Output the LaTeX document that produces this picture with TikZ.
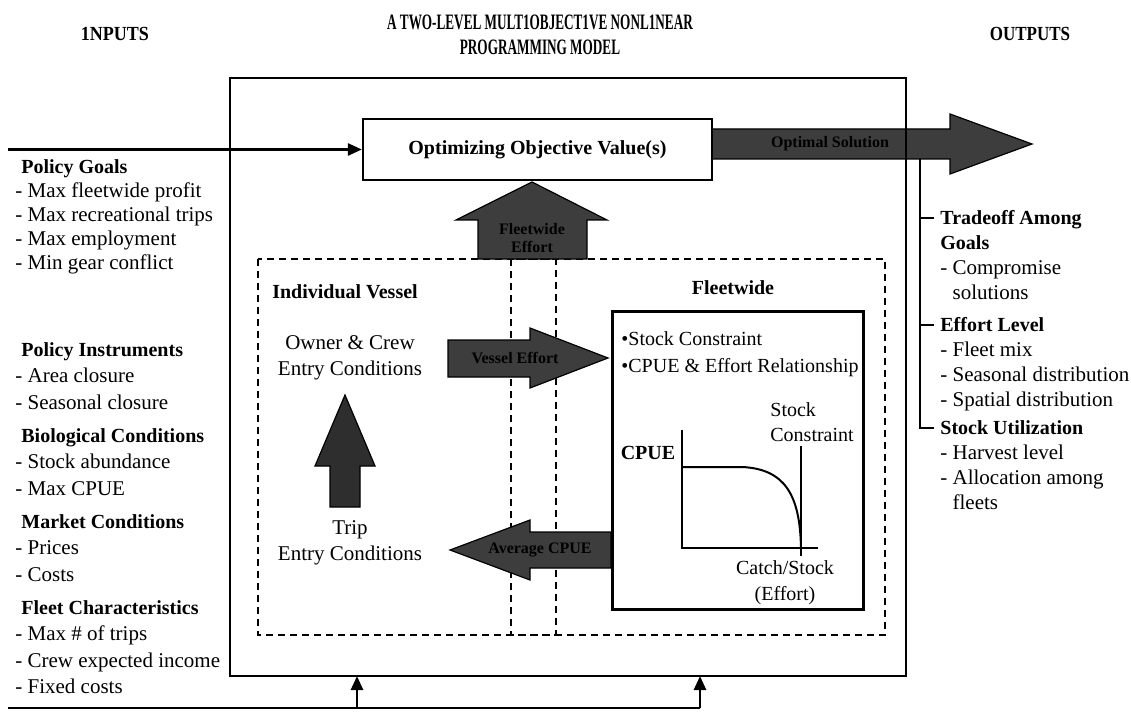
\documentclass[tikz,border=0pt]{standalone}
\usepackage{fontspec}
\usepackage{graphicx}
\setmainfont{Liberation Serif}
\usetikzlibrary{arrows.meta}
\newcommand{\hd}[1]{{\fontsize{10}{13}\selectfont\bfseries #1}}
\newcommand{\narrowcaps}[1]{\scalebox{0.6}[1]{#1}}
\tikzset{
    outerbox/.style={draw, line width=1.3pt},
    dashbox/.style={draw, line width=1pt, dash pattern=on 3.5pt off 2.5pt},
    blockarrow/.style={fill=black!76, draw=black, line width=0.6pt},
    arrowlabel/.style={font=\fontsize{8}{9}\selectfont\bfseries, text=black, align=center, inner sep=0pt},
    feed/.style={line width=1.3pt, -{Triangle[length=7pt, width=6pt]}},
    headcaps/.style={font=\fontsize{10}{13}\selectfont\bfseries},
    listtext/.style={align=left, anchor=north west, inner sep=0pt, font=\fontsize{10.5}{13.2}\selectfont}
}

\begin{document}
\begin{tikzpicture}[x=0.5pt, y=-0.5pt]
  \useasboundingbox (0,0) rectangle (1131,717);

  % Headings
  \node[headcaps] (inputs) at (115,34) {\scalebox{0.9}[1]{1NPUTS}};
  \node[headcaps, align=center, font=\fontsize{11}{12.5}\selectfont\bfseries] (model) at (540,35)
    {\narrowcaps{A TWO-LEVEL MULT1OBJECT1VE NONL1NEAR}\\\narrowcaps{PROGRAMMING MODEL}};
  \node[headcaps] (outputs) at (1030,34) {\scalebox{0.85}[1]{OUTPUTS}};

  % Output arrow (under the model frame)
  \filldraw[blockarrow] (712,129) -- (950,129) -- (950,114) -- (1032,144) -- (950,174)
    -- (950,159) -- (712,159) -- cycle;
  \node[arrowlabel] (optlabel) at (830,144) {Optimal Solution};

  % Model frame and the two levels
  \draw[outerbox] (230,78) rectangle (906,676);
  \draw[dashbox] (258,259) rectangle (556,635);
  \draw[dashbox] (511,259) rectangle (885,635);

  \node[draw, line width=1.1pt, fill=white, minimum width=174.5pt, minimum height=30.5pt,
    font=\fontsize{10}{12}\selectfont\bfseries] (optbox) at (537.5,149.5) {Optimizing Objective Value(s)};
  \node[draw, line width=1.3pt, minimum width=125.5pt, minimum height=149pt, anchor=north west]
    (fleetbox) at (611,310) {};

  % Inputs
  \coordinate (inL) at (8,149.5);
  \draw[feed] (inL) -- (optbox.west);
  \node[listtext, font=\fontsize{10.5}{12}\selectfont] (goals) at (15,159)
    {\hspace*{3pt}\hd{Policy Goals}\\- Max fleetwide profit\\- Max recreational trips\\- Max employment\\- Min gear conflict};
  \node[listtext] (instr) at (15,342)
    {\hspace*{3pt}\hd{Policy Instruments}\\- Area closure\\- Seasonal closure};
  \node[listtext] (bio) at (15,428)
    {\hspace*{3pt}\hd{Biological Conditions}\\- Stock abundance\\- Max CPUE};
  \node[listtext] (market) at (15,514)
    {\hspace*{3pt}\hd{Market Conditions}\\- Prices\\- Costs};
  \node[listtext] (fleet) at (15,600)
    {\hspace*{3pt}\hd{Fleet Characteristics}\\- Max \# of trips\\- Crew expected income\\- Fixed costs};

  \coordinate (botL) at (8,708);
  \coordinate (botA) at (357,708);
  \coordinate (botB) at (700,708);
  \coordinate (upA) at (357,676);
  \coordinate (upB) at (700,676);
  \draw[line width=1.3pt] (botL) -- (botB);
  \draw[feed] (botA) -- (upA);
  \draw[feed] (botB) -- (upB);

  % Outputs
  \node[listtext, font=\fontsize{10.5}{12.5}\selectfont] (tradeoff) at (940,210)
    {\hd{Tradeoff Among}\\\hd{Goals}\\- Compromise\\\phantom{- }solutions};
  \node[listtext, font=\fontsize{10.5}{12.5}\selectfont] (effort) at (940,317)
    {\hd{Effort Level}\\- Fleet mix\\- Seasonal distribution\\- Spatial distribution};
  \node[listtext, font=\fontsize{10.5}{12.5}\selectfont] (stockuse) at (940,420)
    {\hd{Stock Utilization}\\- Harvest level\\- Allocation among\\\phantom{- }fleets};
  \draw[line width=1.3pt] (920,159) -- (920,428) -- (934,428);
  \draw[line width=1.3pt] (920,218) -- (934,218);
  \draw[line width=1.3pt] (920,325) -- (934,325);

  % Individual vessel level
  \node[font=\fontsize{10}{12}\selectfont\bfseries] (vessel) at (345,292) {Individual Vessel};
  \node[align=center, font=\fontsize{10.5}{13}\selectfont] (owner) at (350,358) {Owner \& Crew\\Entry Conditions};
  \node[align=center, font=\fontsize{10.5}{13}\selectfont] (trip) at (350,543) {Trip\\Entry Conditions};
  \filldraw[blockarrow, fill=black!82] (330,507) -- (330,466) -- (315,466) -- (345,395) -- (375,466)
    -- (360,466) -- (360,507) -- cycle;

  % Fleetwide level
  \node[font=\fontsize{10}{12}\selectfont\bfseries] (fleetwide) at (733,288) {Fleetwide};
  \node[anchor=north west, align=left, inner sep=0pt, font=\fontsize{10}{13.5}\selectfont] (bullets) at (621,331)
    {\textbullet Stock Constraint\\\textbullet CPUE \& Effort Relationship};
  \node[anchor=north west, align=left, inner sep=0pt, font=\fontsize{10}{12.5}\selectfont] (stockcon) at (770,402)
    {Stock\\Constraint};
  \node[font=\fontsize{10}{12}\selectfont\bfseries] (cpue) at (648,453) {CPUE};
  \node[align=center, font=\fontsize{10}{13}\selectfont] (catch) at (785,583) {Catch/Stock\\(Effort)};
  \coordinate (yTop) at (682,430);
  \coordinate (orig) at (682,548);
  \coordinate (xEnd) at (818,548);
  \draw[line width=0.6pt] (yTop) -- (orig) -- (xEnd);
  \draw[line width=1pt] (682,467) -- (742,467) .. controls (785,469) and (800,495) .. (801,548);
  \draw[line width=0.6pt] (801,446) -- (801,556);

  % Flows between the levels
  \filldraw[blockarrow] (478,259) -- (478,220) -- (456,220) -- (532,182) -- (607,220)
    -- (587,220) -- (587,259) -- cycle;
  \node[arrowlabel] (uplabel) at (532,238) {Fleetwide\\Effort};
  \filldraw[blockarrow] (448,340) -- (530,340) -- (530,328) -- (608,358) -- (530,388)
    -- (530,377) -- (448,377) -- cycle;
  \node[arrowlabel] (effortlabel) at (515,358) {Vessel Effort};
  \filldraw[blockarrow] (611,532) -- (530,532) -- (530,520) -- (450,550) -- (530,580)
    -- (530,568) -- (611,568) -- cycle;
  \node[arrowlabel] (cpuelabel) at (540,550) {Average CPUE};
\end{tikzpicture}
\end{document}
